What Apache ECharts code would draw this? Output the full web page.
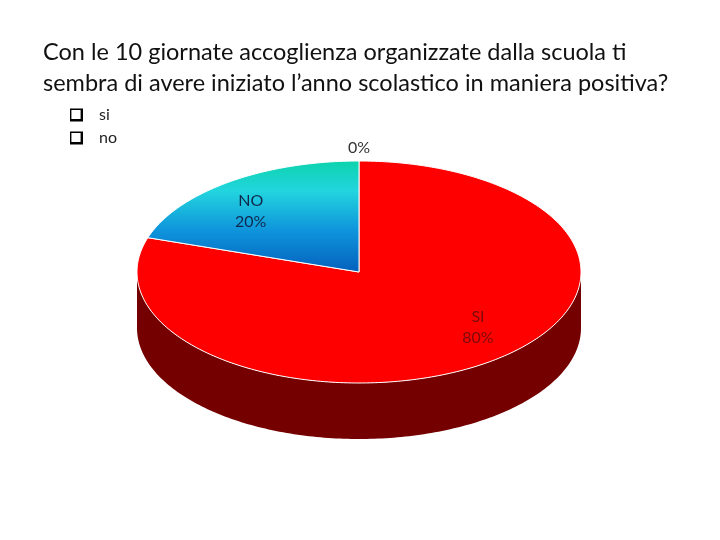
<!DOCTYPE html>
<html>
<head>
<meta charset="utf-8">
<style>html,body{margin:0;padding:0;background:#fff}#c{width:720px;height:540px}</style>
<script src="https://cdn.jsdelivr.net/npm/echarts@6/dist/echarts.min.js"></script>
</head>
<body>
<div id="c"></div>
<script>
const titleText = "Con le 10 giornate accoglienza organizzate dalla scuola ti\nsembra di avere iniziato l’anno scolastico in maniera positiva?";
const legendNames = ["si", "no", "altro"];
const sliceLabels = ["SI", "NO", ""];
const sliceValues = [80, 20, 0];
const percentLabels = ["80%", "20%", "0%"];

const FONT = "Lato, 'Open Sans', sans-serif";
const cx = 359, cy = 272, rx = 222, ry = 111, depth = 56;
const labelFactor = [[0.912, 0.615], [0.83, 0.67], [0, 1.118]];
const total = sliceValues.reduce((a, b) => a + b, 0);
const topFill = [
  "#ff0000",
  { type: "linear", x: 0, y: 0, x2: 0, y2: 1, colorStops: [
    { offset: 0, color: "#0cd3ac" },
    { offset: 0.27, color: "#22d5de" },
    { offset: 0.62, color: "#0f95dc" },
    { offset: 1, color: "#0460bd" }
  ] },
  "#ffffff"
];
const labelColor = ["#7c0a0a", "#10284e", "#333333"];

function pt(deg, dy) {
  const a = deg * Math.PI / 180;
  return [cx + rx * Math.sin(a), cy - ry * Math.cos(a) + (dy || 0)];
}
function arc(from, to, dy) {
  const out = [], n = Math.max(2, Math.ceil(Math.abs(to - from)));
  for (let i = 0; i <= n; i++) out.push(pt(from + (to - from) * i / n, dy));
  return out;
}
const starts = sliceValues.map((_, i) => sliceValues.slice(0, i).reduce((a, b) => a + b, 0));

function makeRender(idx) {
  return function (params, api) {
    const value = api.value(0), start = api.value(1);
    const a0 = start / total * 360, a1 = (start + value) / total * 360;
    const children = [];
    const w0 = Math.max(a0, 90), w1 = Math.min(a1, 270);
    if (w1 > w0) {
      children.push({ type: "polygon",
        shape: { points: arc(w0, w1, 0).concat(arc(w1, w0, depth)) },
        style: { fill: "#750000" } });
    }
    if (value > 0) {
      children.push({ type: "polygon",
        shape: { points: [[cx, cy]].concat(arc(a0, a1, 0)) },
        style: { fill: topFill[idx], stroke: "#ffffff", lineWidth: 1 } });
    }
    const mid = (a0 + a1) / 2 * Math.PI / 180;
    const f = labelFactor[idx];
    const lx = cx + rx * f[0] * Math.sin(mid);
    const ly = cy - ry * f[1] * Math.cos(mid);
    const txt = sliceLabels[idx] ? sliceLabels[idx] + "\n" + percentLabels[idx] : percentLabels[idx];
    children.push({ type: "text", z2: 10,
      style: { x: lx, y: ly, text: txt, align: "center", verticalAlign: "middle",
        font: "16px " + FONT, lineHeight: 21, fill: labelColor[idx] } });
    return { type: "group", children };
  };
}

const chart = echarts.init(document.getElementById("c"), null, { renderer: "canvas" });
chart.setOption({
  animation: false,
  backgroundColor: "#fff",
  title: {
    text: titleText, left: 38, top: 32,
    textStyle: { fontFamily: FONT, fontSize: 23.5, fontWeight: "normal", color: "#111", lineHeight: 31 }
  },
  legend: {
    orient: "vertical", left: 65, top: 102, itemWidth: 13, itemHeight: 13, itemGap: 7, selectedMode: false,
    icon: "path://M0,0H13V13H0Z M1.4,1.4V10.6H10.6V1.4Z",
    textStyle: { fontFamily: FONT, fontSize: 16, color: "#222", padding: [0, 0, 0, 11] },
    data: legendNames.slice(0, 2).map(n => ({ name: n, itemStyle: { color: "#000", borderWidth: 0 } }))
  },
  series: sliceValues.map((v, i) => ({
    type: "custom", name: legendNames[i], coordinateSystem: "none", silent: true,
    renderItem: makeRender(i), data: [[v, starts[i]]], z: 2
  }))
});
</script>
</body>
</html>
